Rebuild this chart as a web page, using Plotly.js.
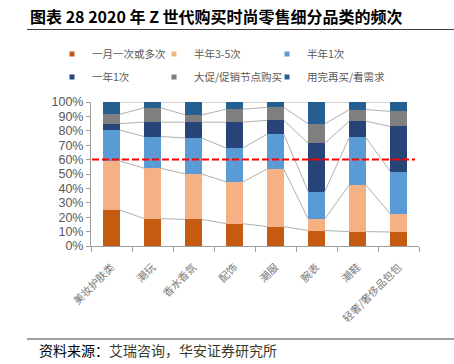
<!DOCTYPE html>
<html><head><meta charset="utf-8">
<script src="https://cdn.plot.ly/plotly-3.0.1.min.js"></script>
<style>html,body{margin:0;padding:0;background:#fff}#chart{width:454px;height:364px}</style>
</head><body><div id="chart"></div>
<script>
// ---- data ----
const categories = ['美妆护肤类','潮玩','香水香氛','配饰','潮服','腕表','潮鞋','轻奢/奢侈品包包'];
const seriesNames = ['一月一次或多次','半年3-5次','半年1次','一年1次','大促/促销节点购买','用完再买/看需求'];
const monthlyOrMore = [25, 19, 18.5, 15.5, 13.5, 10.7, 10, 9.7];
const halfYear3to5  = [34, 35, 31.5, 29, 40, 8, 32.5, 12.6];
const halfYearOnce  = [21.5, 22, 25, 23.5, 24.3, 19, 33, 29.4];
const yearOnce      = [4.5, 10, 11, 18, 9.5, 33.6, 11.2, 31.3];
const promotion     = [6.5, 10, 5, 9, 9, 13.5, 8, 10.5];
const asNeeded      = [8.5, 4, 9, 5, 3.7, 15.2, 5.3, 6.5];
const yTickVals = [0, 10, 20, 30, 40, 50, 60, 70, 80, 90, 100];
const yTickLabels = ['0%','10%','20%','30%','40%','50%','60%','70%','80%','90%','100%'];
const referenceLine = 60;

// ---- styles ----
const colors = ['#C55A11','#F4B183','#5B9BD5','#264478','#7F7F7F','#255E91'];
const series = [monthlyOrMore, halfYear3to5, halfYearOnce, yearOnce, promotion, asNeeded];
const barWidth = 0.4;
const FONT = 'Noto Sans CJK SC, sans-serif';
const W = 454, H = 364, L = 91, R = 35, T = 102, B = 118;
const pw = W - L - R, ph = H - T - B;
const px2x = p => (p - L) / pw;
const py2y = p => (H - B - p) / ph;
const legendTextX = [93, 195, 308];   // pixel column of legend text
const legendRowY = [54, 77];          // pixel row centres

const xIdx = categories.map((c, i) => i);
const traces = [];
series.forEach((vals, k) => {
  traces.push({
    type: 'bar', x: xIdx, y: vals, width: barWidth,
    marker: {color: colors[k], line: {width: 0}},
    showlegend: false, hoverinfo: 'skip'
  });
});

// series lines connecting cumulative boundaries
const cum = [];
let run = categories.map(() => 0);
series.forEach(vals => { run = run.map((r, i) => r + vals[i]); cum.push(run.slice()); });
const lx = [], ly = [];
cum.forEach(level => {
  for (let i = 0; i < categories.length - 1; i++) {
    lx.push(i + barWidth / 2, i + 1 - barWidth / 2, null);
    ly.push(level[i], level[i + 1], null);
  }
});
traces.push({type: 'scatter', mode: 'lines', x: lx, y: ly, line: {color: '#B0B0B0', width: 1},
  showlegend: false, hoverinfo: 'skip', connectgaps: false});

// legend entries: one small legend per entry, laid out 3 x 2
const layoutLegends = {};
series.forEach((vals, k) => {
  const key = k === 0 ? 'legend' : 'legend' + (k + 1);
  traces.push({type: 'scatter', mode: 'markers', x: [null], y: [null], name: seriesNames[k],
    marker: {symbol: 'square', size: 5, color: colors[k]},
    legend: key, showlegend: true});
  layoutLegends[key] = {orientation: 'h', xref: 'container', yref: 'container', xanchor: 'left', yanchor: 'middle',
    x: (legendTextX[k % 3] - 41) / W, y: 1 - legendRowY[Math.floor(k / 3)] / H,
    itemwidth: 30, bgcolor: 'rgba(0,0,0,0)', borderwidth: 0,
    font: {family: FONT, size: 10.5, color: '#595959'}};
});

const layout = Object.assign({
  width: W, height: H,
  margin: {l: L, r: R, t: T, b: B},
  paper_bgcolor: '#fff', plot_bgcolor: '#fff',
  barmode: 'stack',
  font: {family: FONT, color: '#595959'},
  title: {text: '图表 28 2020 年 Z 世代购买时尚零售细分品类的频次', xref: 'container', yref: 'container',
    x: 30 / W, xanchor: 'left', y: 1 - 17 / H, yanchor: 'middle',
    font: {family: FONT, size: 16, color: '#000', weight: 'bold'}},
  xaxis: {range: [-0.5, 7.5], tickmode: 'array', tickvals: xIdx, ticktext: categories, ticks: '',
    tickangle: -45, ticklabelstandoff: 10, tickfont: {family: FONT, size: 10.5, color: '#7A7A7A'},
    showline: true, linecolor: '#A0A0A0', linewidth: 1, showgrid: false, zeroline: false, fixedrange: true,
    minor: {tickmode: 'array', tickvals: categories.map((c, i) => i - 0.5).concat([categories.length - 0.5]),
      ticks: 'outside', ticklen: 5, tickcolor: '#A0A0A0', showgrid: false}},
  yaxis: {range: [0, 100], tickmode: 'array', tickvals: yTickVals, ticktext: yTickLabels, ticks: 'outside', ticklen: 4,
    tickcolor: '#A0A0A0', tickfont: {family: 'Liberation Sans, Arial, sans-serif', size: 12.5, color: '#595959'},
    showline: true, linecolor: '#A0A0A0', linewidth: 1, showgrid: false, zeroline: false, fixedrange: true},
  shapes: [
    {type: 'line', xref: 'paper', yref: 'y', x0: 0.003, x1: 0.988, y0: referenceLine, y1: referenceLine,
      line: {color: '#FF0000', width: 2, dash: '7px,3px'}, layer: 'above'},
    {type: 'line', xref: 'paper', yref: 'paper', x0: px2x(27), x1: px2x(454), y0: py2y(29.5), y1: py2y(29.5),
      line: {color: '#404040', width: 1}},
    {type: 'line', xref: 'paper', yref: 'paper', x0: px2x(27), x1: px2x(454), y0: py2y(339), y1: py2y(339),
      line: {color: '#404040', width: 1}}
  ],
  annotations: [
    {xref: 'paper', yref: 'paper', x: px2x(37), y: py2y(350), xanchor: 'left', yanchor: 'middle', showarrow: false,
      text: '<span style="color:#000">资料来源：</span>艾瑞咨询，华安证券研究所',
      font: {family: FONT, size: 14, color: '#3A3A2A'}}
  ]
}, layoutLegends);

Plotly.newPlot('chart', traces, layout, {displayModeBar: false, staticPlot: true});
</script>
</body></html>
